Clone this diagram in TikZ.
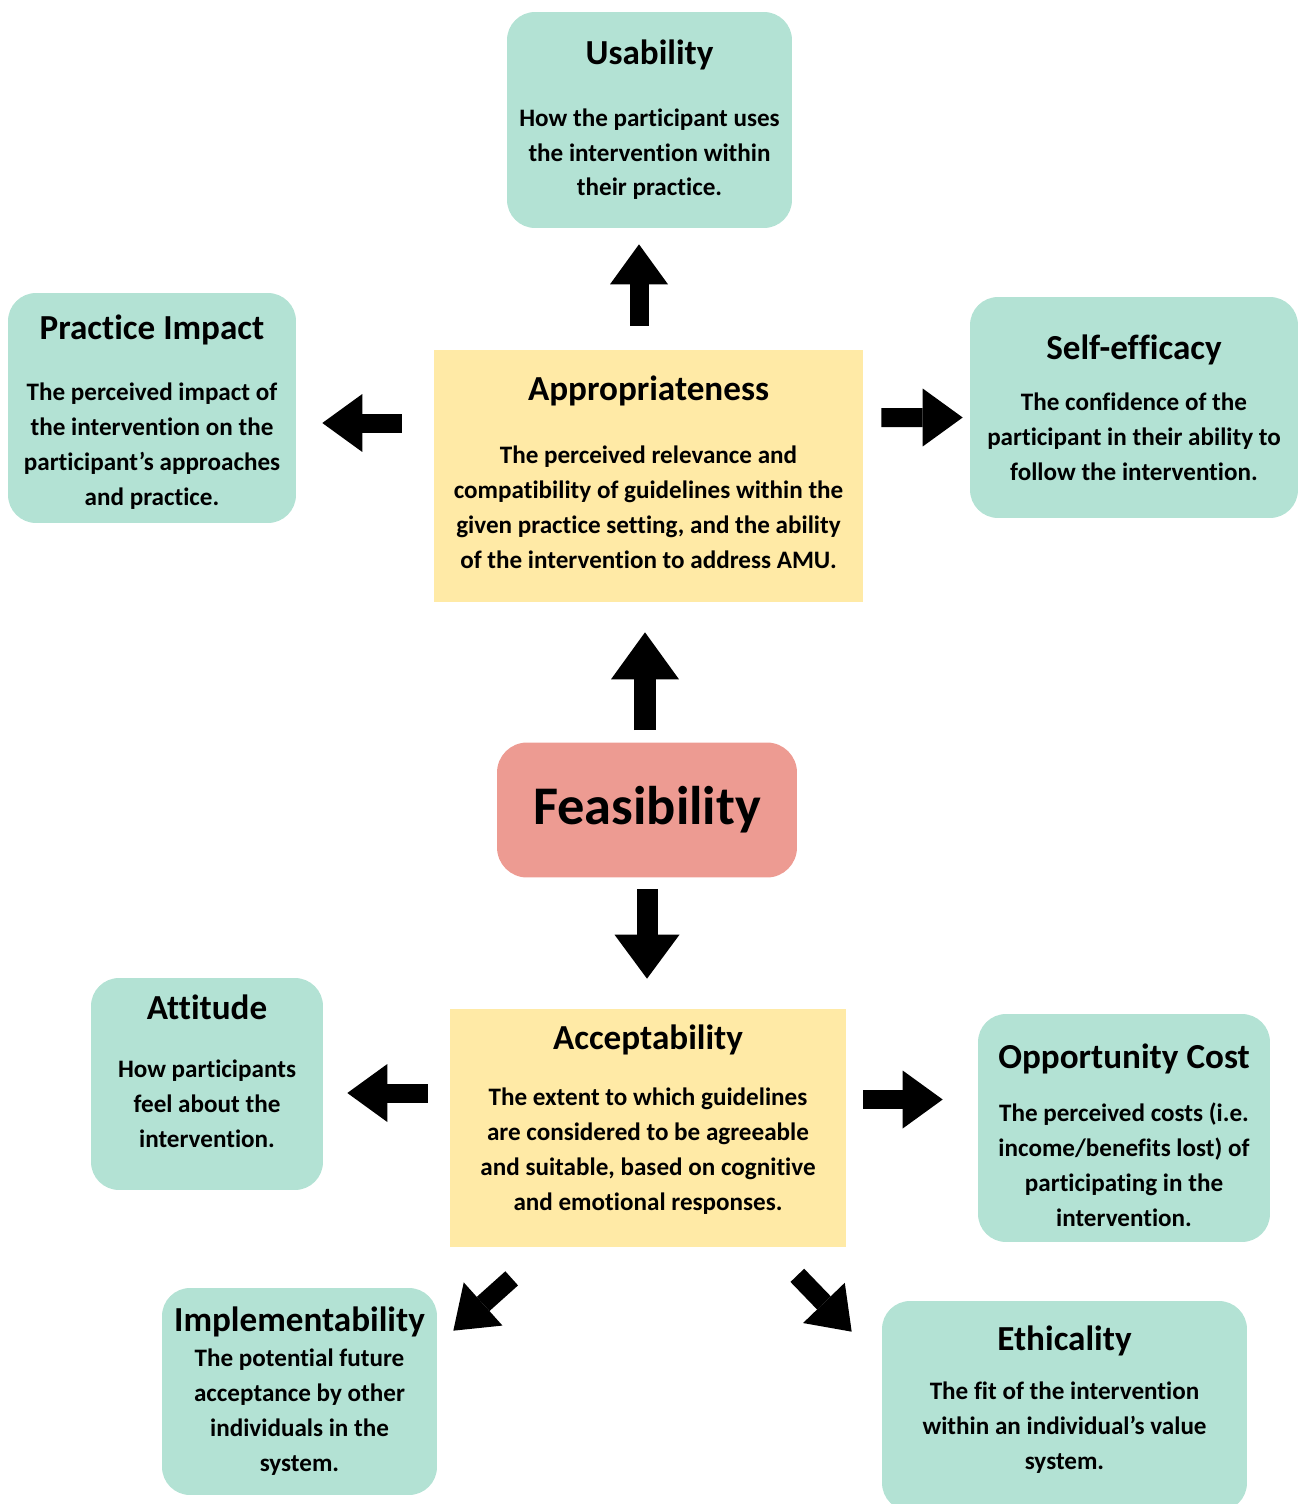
\documentclass[tikz,border=0pt]{standalone}
\usepackage{fontspec}
\setmainfont{Carlito}[Ligatures=NoCommon]
\usetikzlibrary{arrows.meta,calc}
\definecolor{cteal}{RGB}{179,226,212}
\definecolor{cyellow}{RGB}{255,234,166}
\definecolor{csalmon}{RGB}{237,155,146}

\begin{document}
\begin{tikzpicture}[
  x=0.02cm, y=-0.02cm,
  font=\bfseries\fontsize{14.3}{19.9}\selectfont,
  topic/.style={fill=cteal,rounded corners=0.56cm,align=center,inner sep=0pt},
  core/.style={fill=cyellow,align=center,inner sep=0pt},
  blockarrow/.style={line width=0.38cm,-{Triangle[width=1.16cm,length=0.8cm,line width=0pt]}},
  bigarrow/.style={line width=0.43cm,-{Triangle[width=1.36cm,length=0.94cm,line width=0pt]}}
]
  \useasboundingbox (0,0) rectangle (1302,1504);
  \clip (0,0) rectangle (1302,1504);

  % central concept
  \node[fill=csalmon,rounded corners=0.6cm,minimum width=6cm,minimum height=2.7cm,inner sep=0pt,
        font=\bfseries\fontsize{31}{36}\selectfont] (feas) at (647,810) {Feasibility};

  % the two main dimensions
  \node[core,minimum width=8.58cm,minimum height=5.04cm] (approp) at (648.5,476)
    {{\fontsize{20}{24}\selectfont Appropriateness}\\[16pt]
     The perceived relevance and\\ compatibility of guidelines within the\\
     given practice setting, and the ability\\ of the intervention to address AMU.\rule[-4.6pt]{0pt}{4.6pt}};
  \node[core,minimum width=7.92cm,minimum height=4.76cm] (accept) at (648,1128)
    {{\fontsize{20}{24}\selectfont Acceptability}\\[12pt]
     The extent to which guidelines\\ are considered to be agreeable\\
     and suitable, based on cognitive\\ and emotional responses.\rule[-11.6pt]{0pt}{11.6pt}};

  % sub-dimensions of appropriateness
  \node[topic,minimum width=5.7cm,minimum height=4.32cm] (usab) at (649.5,120)
    {{\fontsize{20}{24}\selectfont Usability}\\[15pt]
     How the participant uses\\ the intervention within\\ their practice.};
  \node[topic,minimum width=5.76cm,minimum height=4.6cm] (practice) at (152,408)
    {\rule{0pt}{18.7pt}{\fontsize{20}{24}\selectfont Practice Impact}\\[15pt]
     The perceived impact of\\ the intervention on the\\ participant’s approaches\\ and practice.};
  \node[topic,minimum width=6.56cm,minimum height=4.42cm] (self) at (1134,407.5)
    {{\fontsize{20}{24}\selectfont Self-efficacy}\\[9pt]
     The confidence of the\\ participant in their ability to\\ follow the intervention.};

  % sub-dimensions of acceptability
  \node[topic,minimum width=4.64cm,minimum height=4.24cm] (attitude) at (207,1084)
    {{\fontsize{20}{24}\selectfont Attitude}\\[13pt]
     How participants\\ feel about the\\ intervention.\rule[-14.8pt]{0pt}{14.8pt}};
  \node[topic,minimum width=5.84cm,minimum height=4.56cm] (opp) at (1124,1128)
    {\rule{0pt}{22.5pt}{\fontsize{20}{24}\selectfont Opportunity Cost}\\[10pt]
     The perceived costs (i.e.\\ income/benefits lost) of\\ participating in the\\ intervention.};
  \node[topic,minimum width=5.5cm,minimum height=4.14cm] (impl) at (299.5,1391.5)
    {{\fontsize{20}{24}\selectfont Implementability}\\
     The potential future\\ acceptance by other\\ individuals in the\\ system.};
  \node[topic,minimum width=7.3cm,minimum height=4.2cm] (ethic) at (1064.5,1406)
    {{\fontsize{20}{24}\selectfont Ethicality}\\[8pt]
     The fit of the intervention\\ within an individual’s value\\ system.\rule[-10pt]{0pt}{10pt}};

  % block arrows
  \draw[bigarrow] ($(feas.north)+(-2,-12)$) -- ($(approp.south)+(-3.5,30)$);
  \draw[bigarrow,line width=0.42cm,-{Triangle[width=1.3cm,length=0.88cm,line width=0pt]}]
    ($(feas.south)+(0,11)$) -- ($(accept.north)+(-1,-30)$);
  \draw[blockarrow] ($(approp.north)+(-9.5,-24)$) -- ($(usab.south)+(-10.5,16)$);
  \draw[blockarrow] ($(approp.west)+(-32,-53)$) -- ($(practice.east)+(26,15)$);
  \draw[blockarrow] ($(approp.east)+(18,-58.5)$) -- ($(self.west)+(-7,10)$);
  \draw[blockarrow] ($(accept.west)+(-22,-35)$) -- ($(attitude.east)+(24,9)$);
  \draw[blockarrow] ($(accept.east)+(17,-28.5)$) -- ($(opp.west)+(-35,-28.5)$);
  \draw[blockarrow] ($(accept.south west)+(62,31)$) -- ($(impl.north east)+(16,43)$);
  \draw[blockarrow] ($(accept.south east)+(-49,28)$) -- ($(ethic.north west)+(-30,31)$);
\end{tikzpicture}
\end{document}
